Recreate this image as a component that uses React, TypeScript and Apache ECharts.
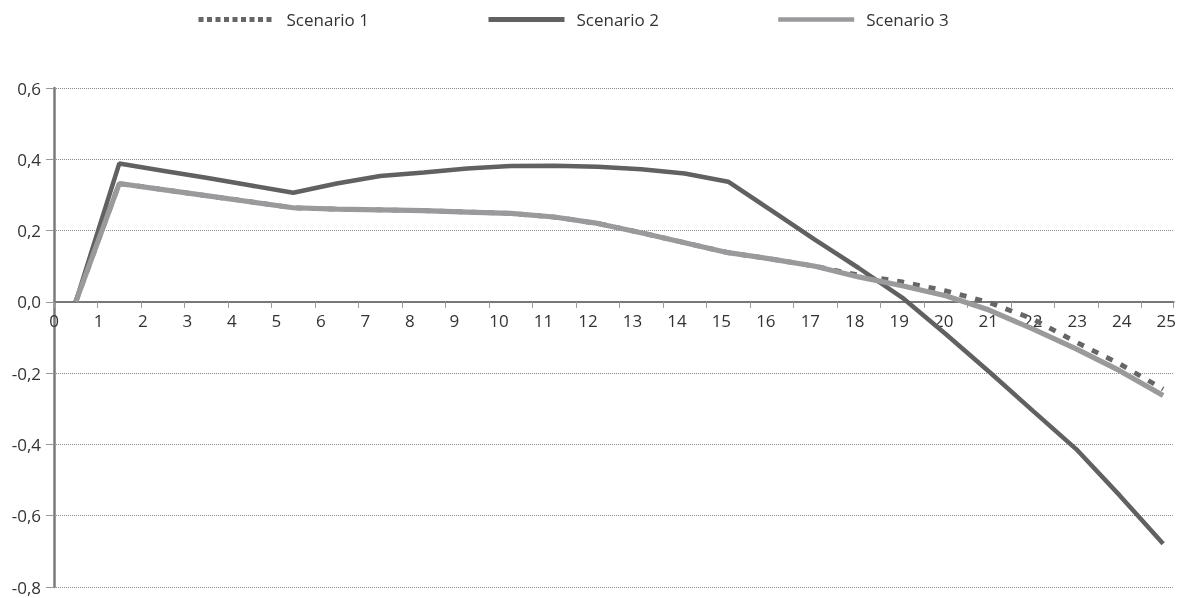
import React, { useEffect, useRef } from 'react';
import * as echarts from 'echarts';

const categories = [0, 1, 2, 3, 4, 5, 6, 7, 8, 9, 10, 11, 12, 13, 14, 15, 16, 17, 18, 19, 20, 21, 22, 23, 24, 25];
const seriesNames = ['Scenario 1', 'Scenario 2', 'Scenario 3'];
const scenario1 = [0, 0.332, 0.315, 0.298, 0.281, 0.264, 0.26, 0.258, 0.256, 0.252, 0.248, 0.238, 0.22, 0.194, 0.166, 0.138, 0.12, 0.1, 0.075, 0.056, 0.031, -0.002, -0.048, -0.113, -0.174, -0.245];
const scenario2 = [0, 0.388, 0.368, 0.348, 0.327, 0.306, 0.332, 0.353, 0.363, 0.374, 0.381, 0.382, 0.379, 0.372, 0.36, 0.337, 0.256, 0.174, 0.095, 0.012, -0.09, -0.196, -0.305, -0.413, -0.543, -0.679];
const scenario3 = [0, 0.332, 0.315, 0.298, 0.281, 0.264, 0.26, 0.258, 0.256, 0.252, 0.248, 0.238, 0.22, 0.194, 0.166, 0.138, 0.12, 0.1, 0.07, 0.045, 0.017, -0.023, -0.076, -0.132, -0.193, -0.263];
const yMin = -0.8;
const yMax = 0.6;
const yStep = 0.2;

const FONT = '"Open Sans", "Noto Sans", sans-serif';

export default function App() {
  const ref = useRef<HTMLDivElement>(null);
  useEffect(() => {
    document.body.style.margin = '0';
    const chart = echarts.init(ref.current as HTMLDivElement, null, { renderer: 'svg' });
    const pairs = (vals: number[]) => vals.map((v, i) => [categories[i] + 0.5, v]);
    const gridLeft = 54;
    const gridRight = 0;
    const gridTop = 88;
    const gridBottom = 11;
    const gridWidth = 1179 - gridLeft - gridRight;
    const gridHeight = 598 - gridTop - gridBottom;
    const tickSpacing = 43.7;
    const labelSpacing = 44.7;
    // the label axis sits at the bottom of the grid; shift it up to the zero line
    const zeroFromBottom = (0 - yMin) / (yMax - yMin) * gridHeight;
    chart.setOption({
      animation: false,
      textStyle: { fontFamily: FONT },
      legend: {
        top: 11,
        left: 196,
        padding: 0,
        itemWidth: 76,
        itemHeight: 14,
        itemGap: 117,
        selectedMode: false,
        textStyle: { fontFamily: FONT, fontSize: 17, color: '#333', padding: [0, 0, 0, 7], width: 83 },
        data: [
          { name: seriesNames[0], itemStyle: { opacity: 0 }, lineStyle: { type: [5, 3.5], width: 5, color: '#666' } },
          { name: seriesNames[1], itemStyle: { opacity: 0 }, lineStyle: { width: 5, color: '#616161' } },
          { name: seriesNames[2], itemStyle: { opacity: 0 }, lineStyle: { width: 4.5, color: '#9a9a9c' } },
        ],
      },
      grid: { left: gridLeft, right: gridRight, top: gridTop, bottom: gridBottom, containLabel: false },
      xAxis: [
        {
          type: 'value',
          min: 0,
          max: gridWidth / tickSpacing,
          interval: 1,
          position: 'bottom',
          axisLine: { show: true, onZero: true, lineStyle: { color: '#777', width: 2 } },
          axisTick: { show: true, length: 6, lineStyle: { color: '#999', width: 1 } },
          axisLabel: { show: false },
          splitLine: { show: false },
        },
        {
          type: 'value',
          min: 0,
          max: gridWidth / labelSpacing,
          interval: 1,
          position: 'bottom',
          offset: -zeroFromBottom,
          axisLine: { show: false, onZero: false },
          axisTick: { show: false },
          axisLabel: {
            show: true,
            margin: 10,
            fontFamily: FONT,
            fontSize: 17,
            color: '#333',
            formatter: (v: number) => (Number.isInteger(v) && categories.includes(v) ? String(v) : ''),
          },
          splitLine: { show: false },
        },
      ],
      yAxis: {
        type: 'value',
        min: yMin,
        max: yMax,
        interval: yStep,
        axisLine: { show: true, onZero: false, lineStyle: { color: '#7a7a7a', width: 2.5 } },
        axisTick: { show: true, length: 8, lineStyle: { color: '#999', width: 1 } },
        axisLabel: {
          margin: 13,
          fontFamily: FONT,
          fontSize: 17,
          lineHeight: 17,
          color: '#333',
          formatter: (v: number) => v.toFixed(1).replace('.', ','),
        },
        splitLine: { show: true, lineStyle: { type: 'dotted', color: '#8a8a8a', width: 1 } },
      },
      series: [
        {
          name: seriesNames[0],
          type: 'line',
          xAxisIndex: 0,
          data: pairs(scenario1),
          symbol: 'none',
          lineStyle: { color: '#666', width: 4.8, type: [7, 9] },
          itemStyle: { color: '#666' },
          z: 2,
        },
        {
          name: seriesNames[1],
          type: 'line',
          xAxisIndex: 0,
          data: pairs(scenario2),
          symbol: 'none',
          lineStyle: { color: '#616161', width: 4.5 },
          itemStyle: { color: '#616161' },
          z: 3,
        },
        {
          name: seriesNames[2],
          type: 'line',
          xAxisIndex: 0,
          data: pairs(scenario3),
          symbol: 'none',
          lineStyle: { color: '#9a9a9c', width: 5.2 },
          itemStyle: { color: '#9a9a9c' },
          z: 4,
        },
      ],
    });
    return () => chart.dispose();
  }, []);
  return <div ref={ref} style={{ position: 'fixed', left: 0, top: 0, width: 1179, height: 598 }} />;
}
